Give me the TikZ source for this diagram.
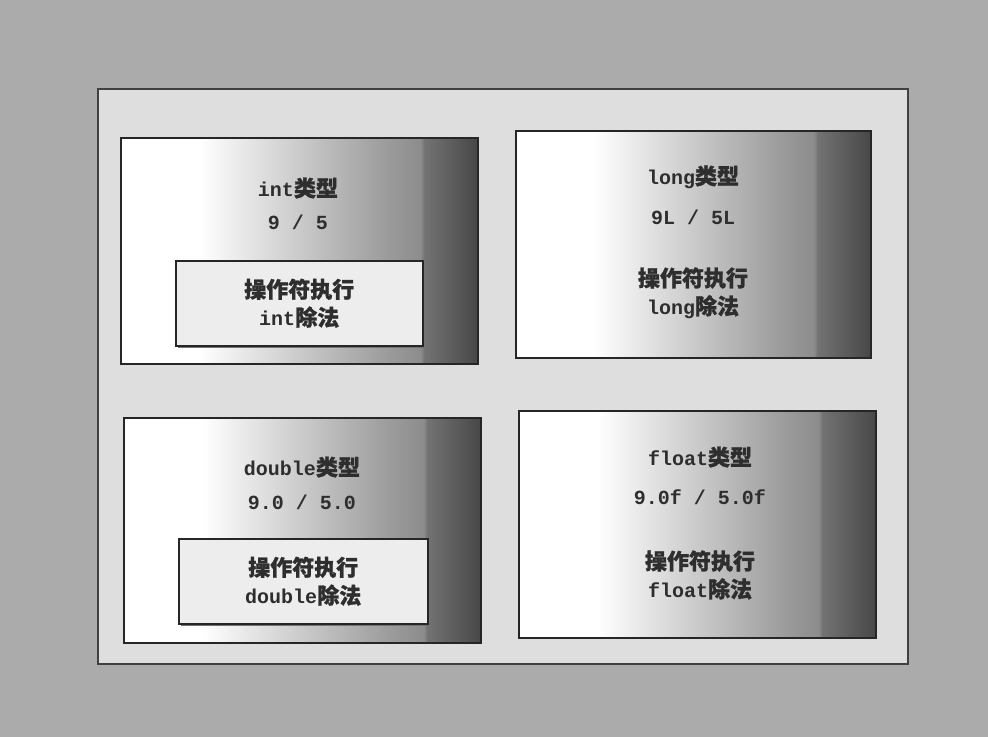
\documentclass[tikz,border=0pt]{standalone}
\usepackage{fontspec}
\setmainfont{Liberation Mono}
\newfontfamily\cjk{Noto Sans CJK SC}[Scale=1.1,FakeBold=1.2]
\usetikzlibrary{shadows}
\pgfdeclarehorizontalshading{boxshade}{100bp}{color(0bp)=(white); color(25bp)=(white); color(36bp)=(white); color(63bp)=(black!40); color(67bp)=(black!45); color(67.5bp)=(black!55); color(75bp)=(black!72); color(100bp)=(black!72)}
\begin{document}
\begin{tikzpicture}[x=1pt,y=-1pt,
  panelbox/.style={draw=black!75, line width=2pt, fill=black!13, inner sep=0pt, anchor=north west},
  typebox/.style={draw=black!85, line width=1.5pt, shading=boxshade, inner sep=0pt, anchor=north west},
  opbox/.style={draw=black!85, line width=1.5pt, fill=black!7, inner sep=0pt, anchor=north west,
    drop shadow={shadow xshift=2.5pt, shadow yshift=-2.5pt, fill=black!55, opacity=1}},
  lbl/.style={font=\fontsize{20}{28}\selectfont\bfseries, text=black!82, align=center, inner sep=0pt}]
\useasboundingbox[fill=black!33] (0,0) rectangle (988,737);
\node[panelbox, minimum width=810pt, minimum height=575pt] (panel) at (97,88) {};
% type boxes
\node[typebox, minimum width=357pt, minimum height=226pt] (b1) at (120,137) {};
\node[typebox, minimum width=355pt, minimum height=227pt] (b2) at (515,130) {};
\node[typebox, minimum width=357pt, minimum height=225pt] (b3) at (123,417) {};
\node[typebox, minimum width=357pt, minimum height=227pt] (b4) at (518,410) {};
% operator boxes
\node[opbox, minimum width=247pt, minimum height=85pt] (i1) at (175,260) {};
\node[opbox, minimum width=249pt, minimum height=85pt] (i3) at (178,538) {};
% texts
\node[lbl] (t1) at (298,188) {int{\cjk 类型}};
\node[lbl] (e1) at (298,222) {9 / 5};
\node[lbl] (o1) at (i1.center) {{\cjk 操作符执行}\\int{\cjk 除法}};
\node[lbl] (t2) at (693,177) {long{\cjk 类型}};
\node[lbl] (e2) at (693,217) {9L / 5L};
\node[lbl] (o2) at (693,293) {{\cjk 操作符执行}\\long{\cjk 除法}};
\node[lbl] (t3) at (302,467) {double{\cjk 类型}};
\node[lbl] (e3) at (302,502) {9.0 / 5.0};
\node[lbl] (o3) at (i3.center) {{\cjk 操作符执行}\\double{\cjk 除法}};
\node[lbl] (t4) at (700,457) {float{\cjk 类型}};
\node[lbl] (e4) at (700,497) {9.0f / 5.0f};
\node[lbl] (o4) at (700,575) {{\cjk 操作符执行}\\float{\cjk 除法}};
\end{tikzpicture}
\end{document}
